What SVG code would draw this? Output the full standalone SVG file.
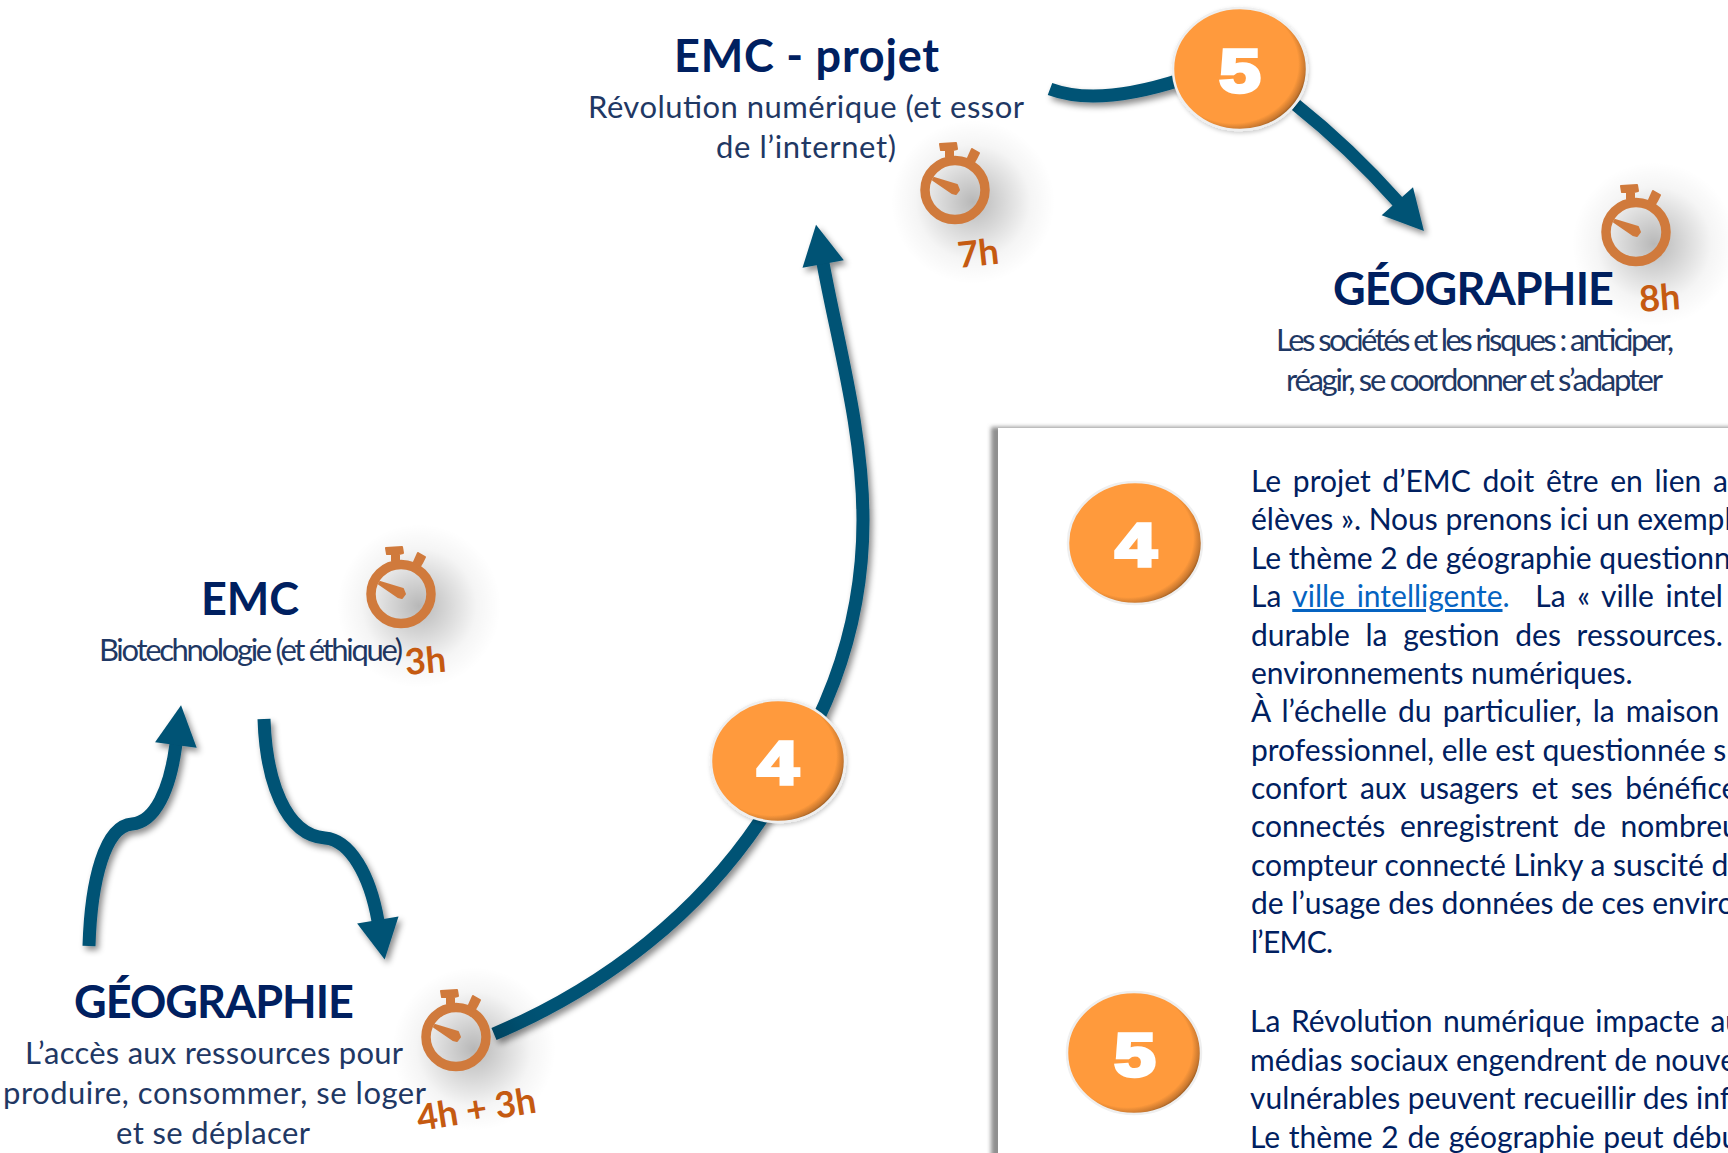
<svg xmlns="http://www.w3.org/2000/svg" width="1728" height="1153" viewBox="0 0 1728 1153">
<style>
text{font-family:"Lato","Carlito","Liberation Sans",sans-serif}
.title{font-size:45px;font-weight:700;fill:#002060}
.sub{font-size:31px;fill:#1f3864}
.body{font-size:30px;fill:#002060}
.time{font-size:36px;font-weight:700;fill:#c55a11}
.num{font-family:"Liberation Sans",Arial,sans-serif;font-size:62px;font-weight:700;fill:#fff;stroke:#fff;stroke-width:3.5;text-anchor:middle}
.link{fill:#0563c1}
.arrow{fill:none;stroke:#005274;stroke-width:13}
.badge{fill:url(#bg);stroke:#efefef;stroke-width:2.5}
.ring{fill:none;stroke:#d07a3c;stroke-width:9.5}
.knob{fill:#d07a3c;stroke:#d07a3c;stroke-width:2;stroke-linejoin:round}
</style>
<defs>
<radialGradient id="bg" cx="0.45" cy="0.46" r="0.57">
<stop offset="0" stop-color="#ff9a3c"/><stop offset="0.85" stop-color="#ff9a3c"/><stop offset="0.94" stop-color="#c9782f"/><stop offset="1" stop-color="#7a4819"/>
</radialGradient>
<radialGradient id="cs">
<stop offset="0" stop-color="#000" stop-opacity=".28"/><stop offset="0.35" stop-color="#000" stop-opacity=".16"/><stop offset="0.7" stop-color="#000" stop-opacity=".04"/><stop offset="1" stop-color="#000" stop-opacity="0"/>
</radialGradient>
<filter id="ds" x="-30%" y="-30%" width="160%" height="160%"><feDropShadow dx="3" dy="4" stdDeviation="3" flood-color="#000" flood-opacity=".45"/></filter>
<filter id="bs" x="-20%" y="-20%" width="140%" height="140%"><feDropShadow dx="1" dy="2" stdDeviation="2" flood-color="#000" flood-opacity=".2"/></filter>
<filter id="pb" x="-5%" y="-5%" width="110%" height="110%"><feGaussianBlur stdDeviation="2"/></filter>
<marker id="head" markerUnits="userSpaceOnUse" markerWidth="42" markerHeight="44" refX="1" refY="22" orient="auto" overflow="visible"><path d="M0 1 L40 22 L0 43 Z" fill="#005274"/></marker>
<g id="clock">
<ellipse cx="18" cy="12" rx="82" ry="82" fill="url(#cs)"/>
<ellipse cx="0" cy="0" rx="30" ry="29.5" class="ring"/>
<path d="M-15 -46 L1 -47 L2 -41 L-2 -40 L-2 -33 L-9 -33 L-9 -40 L-14 -40 Z" class="knob"/>
<path d="M13 -32 L17 -41 L24 -37 L21 -31 L18 -26 Z" class="knob"/>
<path d="M-22 -10 L-21 -12 L2 -5 L4 0 L1 4 L-3 3 Z" class="knob"/>
</g>
</defs>
<rect width="1728" height="1153" fill="#fff"/>
<g id="connectors" filter="url(#ds)">
<path class="arrow" marker-end="url(#head)" d="M89 946 C91 880 105 826 132 824 C155 822 170 790 176 744"/>
<path class="arrow" marker-end="url(#head)" d="M264 719 C266 780 285 835 325 838 C350 840 370 875 378 921"/>
<path class="arrow" marker-end="url(#head)" d="M494 1034 C610 985 700 910 760 821 C820 730 863 640 863 520 C863 430 837 340 823 263"/>
<path class="arrow" d="M1050 89 C1085 102 1130 96 1180 80"/>
<path class="arrow" marker-end="url(#head)" d="M1296 105 C1330 132 1365 165 1398 202"/>
</g>
<g id="node-emc-projet">
<text class="title" x="674" y="72" textLength="265">EMC - projet</text>
<text class="sub" x="588" y="118" textLength="436">Révolution numérique (et essor</text>
<text class="sub" x="716" y="158" textLength="180">de l’internet)</text>
<use href="#clock" x="955" y="190"/>
<text class="time" transform="translate(959 268) rotate(-6)">7h</text>
</g>
<g id="node-geographie-risques">
<text class="title" x="1333" y="305" textLength="281">GÉOGRAPHIE</text>
<text class="sub" x="1276" y="351" textLength="398" lengthAdjust="spacing">Les sociétés et les risques : anticiper,</text>
<text class="sub" x="1286" y="391" textLength="377" lengthAdjust="spacing">réagir, se coordonner et s’adapter</text>
<use href="#clock" x="1636" y="232"/>
<text class="time" transform="translate(1640 312) rotate(-4)">8h</text>
</g>
<g id="node-emc-bio">
<text class="title" x="201" y="615" textLength="98">EMC</text>
<text class="sub" x="99" y="661" textLength="304" lengthAdjust="spacing">Biotechnologie (et éthique)</text>
<use href="#clock" x="401" y="594"/>
<text class="time" transform="translate(406 675) rotate(-5)">3h</text>
</g>
<g id="node-geographie-ressources">
<text class="title" x="74" y="1018" textLength="280">GÉOGRAPHIE</text>
<text class="sub" x="25" y="1064" textLength="378">L’accès aux ressources pour</text>
<text class="sub" x="3" y="1104" textLength="423">produire, consommer, se loger</text>
<text class="sub" x="116" y="1144" textLength="194">et se déplacer</text>
<use href="#clock" x="456" y="1037"/>
<text class="time" transform="translate(419 1131) rotate(-9)" textLength="120">4h + 3h</text>
</g>
<g id="badge-4"><ellipse class="badge" cx="778" cy="761" rx="67" ry="61" filter="url(#bs)"/><text class="num" transform="translate(778 784) scale(1.2 1)">4</text></g>
<g id="badge-5"><ellipse class="badge" cx="1240" cy="69" rx="67" ry="61" filter="url(#bs)"/><text class="num" transform="translate(1240 92) scale(1.2 1)">5</text></g>
<g id="panel">
<rect x="991" y="427" width="760" height="760" fill="#8f8f8f" filter="url(#pb)"/>
<rect x="998" y="428" width="740" height="740" fill="#fff"/>
<ellipse class="badge" cx="1135" cy="543" rx="67" ry="61"/><text class="num" transform="translate(1136 566) scale(1.2 1)">4</text>
<ellipse class="badge" cx="1134" cy="1053" rx="67" ry="61"/><text class="num" transform="translate(1135 1076) scale(1.2 1)">5</text>
<text class="body" x="1251" y="492" word-spacing="4">Le projet d’EMC doit être en lien a</text>
<text class="body" x="1251" y="530">élèves ». Nous prenons ici un exempl</text>
<text class="body" x="1251" y="569">Le thème 2 de géographie questionn</text>
<text class="body" x="1251" y="607" word-spacing="4">La <tspan class="link" text-decoration="underline">ville intelligente</tspan><tspan class="link">.</tspan> <tspan dx="14">La « ville intel</tspan></text>
<text class="body" x="1251" y="646" word-spacing="8">durable la gestion des ressources.</text>
<text class="body" x="1251" y="684">environnements numériques.</text>
<text class="body" x="1251" y="722" word-spacing="3.5">À l’échelle du particulier, la maison</text>
<text class="body" x="1251" y="761">professionnel, elle est questionnée s</text>
<text class="body" x="1251" y="799" word-spacing="5">confort aux usagers et ses bénéfice</text>
<text class="body" x="1251" y="837" word-spacing="7">connectés enregistrent de nombreu</text>
<text class="body" x="1251" y="876">compteur connecté Linky a suscité d</text>
<text class="body" x="1251" y="914">de l’usage des données de ces enviro</text>
<text class="body" x="1251" y="953" textLength="82">l’EMC.</text>
<text class="body" x="1250" y="1032" word-spacing="3">La Révolution numérique impacte au</text>
<text class="body" x="1250" y="1071">médias sociaux engendrent de nouve</text>
<text class="body" x="1250" y="1109">vulnérables peuvent recueillir des inf</text>
<text class="body" x="1250" y="1148" word-spacing="1">Le thème 2 de géographie peut débu</text>
</g>
</svg>
